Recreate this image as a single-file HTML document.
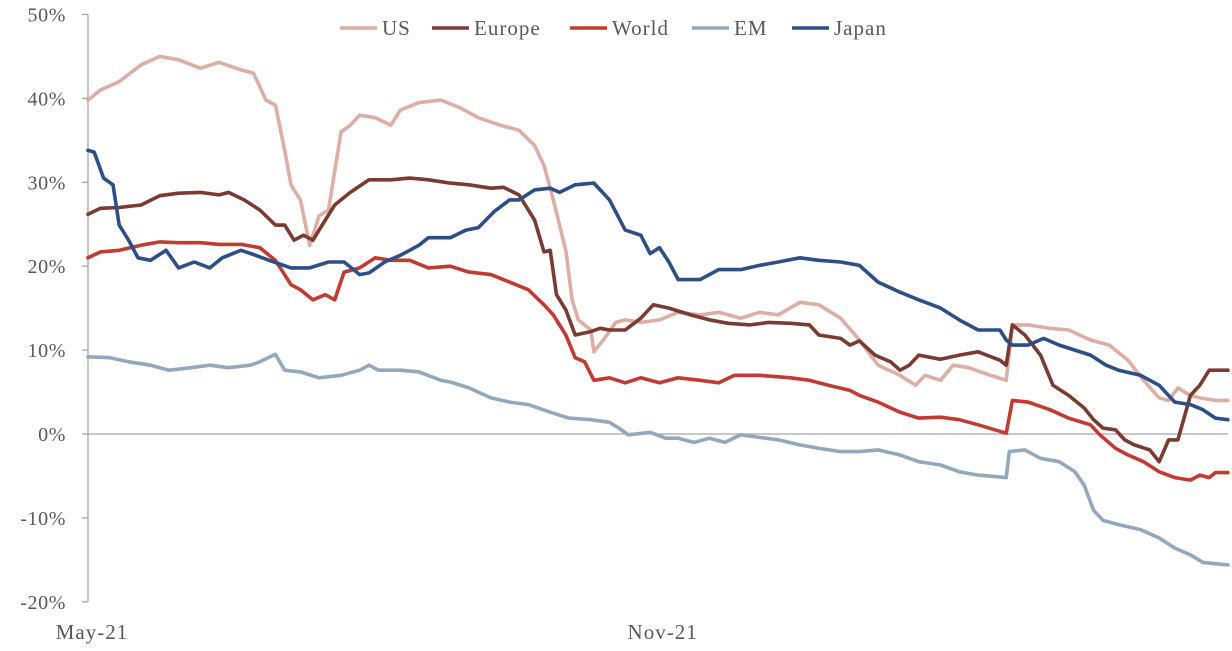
<!DOCTYPE html>
<html><head><meta charset="utf-8"><style>
html,body{margin:0;padding:0;background:#fff;}
svg{display:block;font-family:"Liberation Serif",serif;}
</style></head><body>
<svg id="chart" width="1232" height="651" viewBox="0 0 1232 651" xmlns="http://www.w3.org/2000/svg"></svg>
<script>
const yTicks=[50,40,30,20,10,0,-10,-20];
const yTickLabels=["50%","40%","30%","20%","10%","0%","-10%","-20%"];
const xTickDays=[0,184];
const xTickLabels=["May-21","Nov-21"];
const seriesNames=["US","Europe","World","EM","Japan"];
const seriesColors=["#dcaea4","#7b3a32","#c23b33","#93a8bd","#2d4f88"];

const usDays=[0,4,10,17,23,29,36,42,49,53,57,60,63,65,68,71,74,77,81,84,87,92,97,100,106,113,119,125,132,138,143,146,149,153,155,157,161,162,165,169,172,177,183,189,196,202,209,215,221,228,234,241,247,253,260,265,268,273,277,282,289,294,296,301,308,314,321,327,333,338,343,346,349,353,356,361,365];
const usVals=[39.8,41,42,44,45,44.6,43.6,44.3,43.4,43,39.8,39.2,33.8,29.7,27.9,22.5,26,26.7,36,36.8,38,37.7,36.8,38.6,39.5,39.8,38.9,37.7,36.8,36.2,34.4,32,27.9,21.9,16,13.6,12.4,9.8,11.2,13.3,13.6,13.3,13.6,14.5,14.2,14.5,13.8,14.5,14.2,15.7,15.4,13.8,11.2,8.2,7,5.8,7,6.4,8.2,7.9,7,6.4,13,13,12.6,12.4,11.2,10.6,8.8,6.4,4.3,4,5.5,4.6,4.3,4,4];

const euDays=[0,4,10,17,23,29,36,42,45,50,55,60,63,66,69,72,74,79,84,90,97,103,109,116,122,129,133,138,143,146,148,150,153,156,161,164,167,172,177,181,186,193,199,205,212,218,225,231,234,241,244,247,252,257,260,263,266,273,279,285,292,294,296,300,305,309,314,319,322,325,329,332,335,340,343,346,349,353,356,359,365];
const euVals=[26.2,26.9,27,27.3,28.4,28.7,28.8,28.5,28.8,27.9,26.7,24.9,24.9,23.1,23.7,23.1,24.3,27.3,28.8,30.3,30.3,30.5,30.3,29.9,29.7,29.3,29.4,28.5,25.5,21.7,21.9,16.6,14.8,11.8,12.2,12.6,12.4,12.4,13.8,15.4,15,14.2,13.6,13.2,13,13.3,13.2,13,11.8,11.4,10.6,11.1,9.4,8.6,7.6,8.2,9.4,8.9,9.4,9.8,8.8,8.2,13,11.8,9.4,5.8,4.6,3.1,1.7,0.7,0.5,-0.7,-1.3,-1.9,-3.3,-0.7,-0.7,4.6,5.8,7.6,7.6];

const wdDays=[0,4,10,17,23,29,36,42,49,55,60,65,68,72,76,79,82,87,92,97,103,109,116,122,129,135,141,146,149,153,156,159,162,167,172,177,183,189,196,202,207,215,225,231,237,244,247,253,260,266,273,279,285,294,296,301,308,314,321,324,329,333,338,343,348,353,356,359,361,365];
const wdVals=[21,21.7,21.9,22.5,22.9,22.8,22.8,22.6,22.6,22.2,20.7,17.8,17.2,16,16.6,16,19.3,19.8,21,20.7,20.7,19.8,20,19.3,19,18.1,17.2,15.4,14.2,11.8,9.1,8.6,6.4,6.7,6.1,6.7,6.1,6.7,6.4,6.1,7,7,6.7,6.4,5.8,5.2,4.6,3.8,2.6,1.9,2,1.7,1.1,0.1,4,3.8,2.9,1.9,1.1,-0.1,-1.7,-2.5,-3.3,-4.5,-5.2,-5.5,-4.9,-5.2,-4.6,-4.6];

const emDays=[0,7,13,20,26,33,39,45,52,55,60,63,68,74,81,87,90,93,100,106,113,116,122,129,135,141,148,154,161,167,170,173,180,185,189,194,199,204,209,215,221,228,234,241,247,253,260,266,273,279,285,294,295,300,305,311,316,319,322,325,330,337,343,348,353,357,365];
const emVals=[9.2,9.1,8.6,8.2,7.6,7.9,8.2,7.9,8.2,8.6,9.5,7.6,7.4,6.7,7,7.6,8.2,7.6,7.6,7.4,6.4,6.2,5.5,4.3,3.8,3.5,2.6,1.9,1.7,1.4,0.7,-0.1,0.2,-0.5,-0.5,-1,-0.5,-1,-0.1,-0.4,-0.7,-1.3,-1.7,-2.1,-2.1,-1.9,-2.5,-3.3,-3.7,-4.5,-4.9,-5.2,-2.1,-1.9,-2.9,-3.3,-4.5,-6.1,-9.1,-10.3,-10.8,-11.4,-12.4,-13.6,-14.4,-15.3,-15.6];

const jpDays=[0,2,5,8,10,13,16,20,25,29,34,39,43,49,53,58,65,71,77,82,87,90,95,100,103,106,109,116,121,125,130,135,138,143,148,151,156,162,167,172,177,180,183,186,189,196,202,209,215,221,228,234,241,247,253,260,266,273,279,285,292,294,296,301,306,311,316,321,326,330,337,343,348,353,357,361,365];
const jpVals=[33.8,33.6,30.5,29.7,24.9,23.1,21,20.7,21.9,19.8,20.5,19.8,21,21.9,21.4,20.7,19.8,19.8,20.5,20.5,19,19.2,20.5,21.3,21.9,22.5,23.4,23.4,24.3,24.6,26.5,27.9,27.9,29.1,29.3,28.8,29.7,29.9,27.9,24.3,23.7,21.5,22.2,20.5,18.4,18.4,19.6,19.6,20.1,20.5,21,20.7,20.5,20.1,18.1,16.9,16,15,13.6,12.4,12.4,11.2,10.6,10.6,11.4,10.6,10,9.4,8.2,7.6,7,5.8,3.8,3.5,2.9,1.9,1.7];

const NS="http://www.w3.org/2000/svg";
const svg=document.getElementById('chart');
const X0=88,PXD=3.123,Y0=434,PXV=8.39;
function xs(d){return X0+d*PXD;}
function ys(v){return Y0-v*PXV;}
function mk(t,a){const e=document.createElementNS(NS,t);for(const k in a)e.setAttribute(k,a[k]);svg.appendChild(e);return e;}

let ax=mk('line',{x1:X0,y1:ys(50),x2:X0,y2:ys(-20),stroke:'#a6a6a6','stroke-width':1.3});


yTicks.forEach((v,i)=>{
  const tk=mk('line',{x1:X0-6,y1:ys(v),x2:X0,y2:ys(v),stroke:'#a6a6a6','stroke-width':1.3});
  
  
  const t=mk('text',{x:66,y:ys(v)+7,'text-anchor':'end','font-size':20,'letter-spacing':0.6,fill:'#595959'});
  t.textContent=yTickLabels[i];
  
  
});
let xa=mk('line',{x1:X0,y1:ys(0),x2:1228,y2:ys(0),stroke:'#a6a6a6','stroke-width':1.3});


xTickDays.forEach((d,i)=>{
  const t=mk('text',{x:xs(d)+(i==0?4:0),y:639,'text-anchor':'middle','font-size':21,'letter-spacing':1,fill:'#595959'});
  t.textContent=xTickLabels[i];
  
  
});
const allDays=[usDays,euDays,wdDays,emDays,jpDays];
const allVals=[usVals,euVals,wdVals,emVals,jpVals];
[3,0,2,1,4].forEach(i=>{
  const pts=allDays[i].map((d,j)=>xs(d).toFixed(1)+','+ys(allVals[i][j]).toFixed(1)).join(' ');
  const p=mk('polyline',{points:pts,fill:'none',stroke:seriesColors[i],'stroke-width':3.6,'stroke-linejoin':'round','stroke-linecap':'round'});
  
  
});
const legX=[340,432,570,692,792];
seriesNames.forEach((n,i)=>{
  const l=mk('line',{x1:legX[i],y1:28,x2:legX[i]+37,y2:28,stroke:seriesColors[i],'stroke-width':3.6});
  
  
  const t=mk('text',{x:legX[i]+42,y:35,'font-size':21,'letter-spacing':1,fill:'#595959'});
  t.textContent=n;
  
  
});
</script>
</body></html>
